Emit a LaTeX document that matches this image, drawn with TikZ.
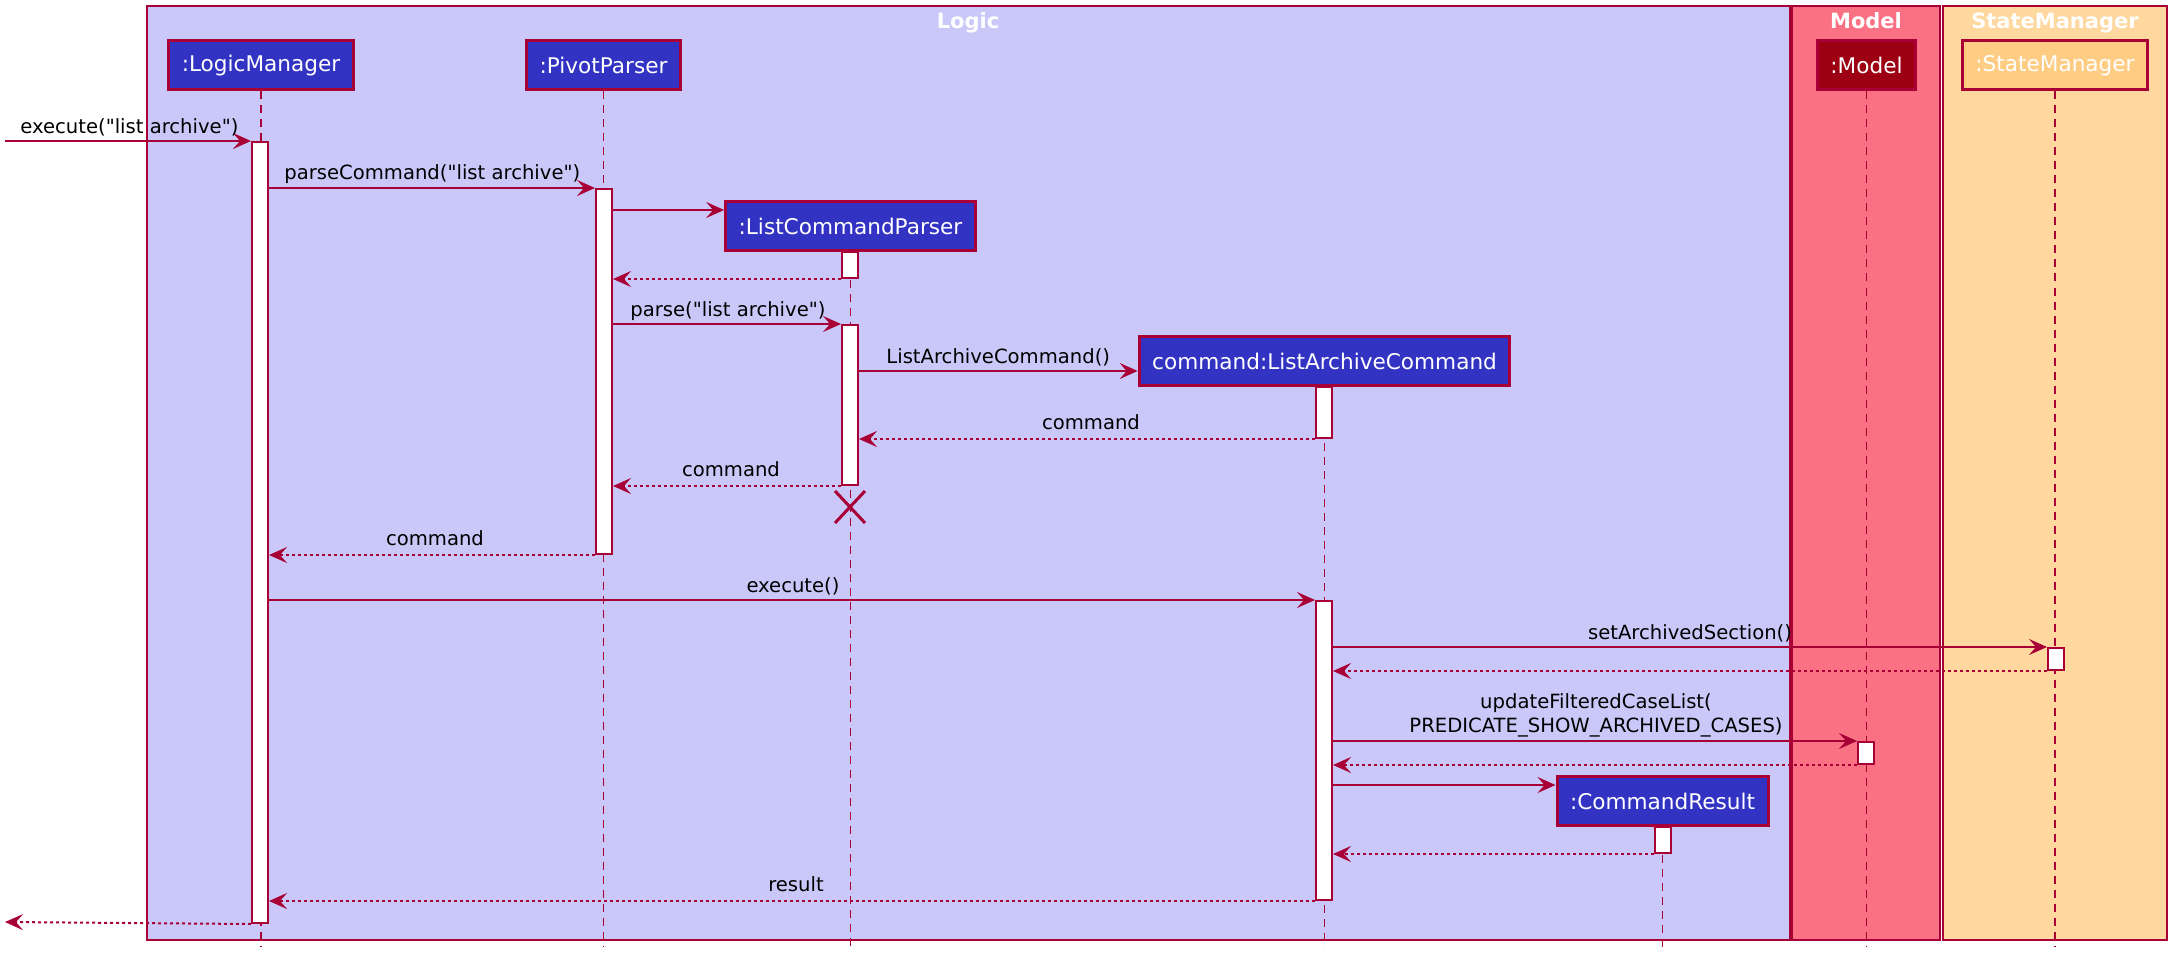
\documentclass[tikz,border=0pt]{standalone}
\usepackage{fontspec}
\newfontfamily\umlfont{DejaVu Sans}
\usetikzlibrary{arrows.meta}
\definecolor{umlred}{HTML}{A80036}
\definecolor{logicbg}{HTML}{C9C8F9}
\definecolor{modelbg}{HTML}{FA7183}
\definecolor{statebg}{HTML}{FED89E}
\definecolor{partblue}{HTML}{3333C3}
\definecolor{modelbox}{HTML}{9C0012}
\definecolor{statebox}{HTML}{FECC82}

\begin{document}
\begin{tikzpicture}[x=0.5pt,y=-0.5pt,
  part/.style={draw=umlred,line width=1.5pt,fill=partblue,text=white,font=\umlfont\fontsize{10.8}{13}\selectfont,minimum height=24.5pt,inner xsep=6.5pt,inner ysep=0pt},
  act/.style={draw=umlred,line width=1pt,fill=white,minimum width=8pt,inner sep=0pt,anchor=north},
  life/.style={draw=umlred,line width=0.8pt,dash pattern=on 4pt off 3pt},
  msg/.style={draw=umlred,line width=1pt,-{Stealth[length=9pt,width=8pt,inset=3.5pt]}},
  ret/.style={msg,dash pattern=on 1.5pt off 1.5pt},
  lbl/.style={font=\umlfont\fontsize{9.8}{12}\selectfont,inner sep=0pt},
  grp/.style={draw=umlred,line width=1pt},
  ttl/.style={text=white,anchor=base,font=\umlfont\bfseries\fontsize{10.5}{12}\selectfont}]
\useasboundingbox (0,0) rectangle (2183,968);
\draw[grp,fill=logicbg] (147,6) rectangle (1790,940);
\draw[grp,fill=modelbg] (1792,6) rectangle (1940,940);
\draw[grp,fill=statebg] (1943,6) rectangle (2167,940);
\node[ttl] (tlogic) at (968,29) {Logic};
\node[ttl] (tmodel) at (1866,29) {Model};
\node[ttl] (tstate) at (2055,29) {StateManager};

\node[part] (lm) at (261,65.5) {:LogicManager};
\node[part] (pp) at (603.5,65.5) {:PivotParser};
\node[part,fill=modelbox] (md) at (1866.5,65.5) {:Model};
\node[part,fill=statebox] (sm) at (2055,65.5) {:StateManager};
\node[part] (lcp) at (850.5,226) {:ListCommandParser};
\node[part] (lac) at (1324.5,361) {command:ListArchiveCommand};
\node[part] (cr) at (1662.5,801) {:CommandResult};

\draw[life] (lm.south) -- (lm.south |- 0,947);
\draw[life] (pp.south) -- (pp.south |- 0,947);
\draw[life] (md.south) -- (md.south |- 0,947);
\draw[life] (sm.south) -- (sm.south |- 0,947);
\draw[life] (lcp.south) -- (lcp.south |- 0,947);
\draw[life] (lac.south) -- (lac.south |- 0,947);
\draw[life] (cr.south) -- (cr.south |- 0,947);

\node[act,minimum height=390.5pt] (lmA) at (260,141) {};
\node[act,minimum height=182.5pt] (ppA) at (604,188) {};
\node[act,minimum height=13pt] (lcpA1) at (850,251) {};
\node[act,minimum height=80pt] (lcpA2) at (850,324) {};
\node[act,minimum height=25.5pt] (lacA1) at (1324,386) {};
\node[act,minimum height=149.5pt] (lacA2) at (1324,600) {};
\node[act,minimum height=11pt] (smA) at (2056,647) {};
\node[act,minimum height=11pt] (mdA) at (1866,741) {};
\node[act,minimum height=13pt] (crA) at (1663,826) {};

\coordinate (in) at (5,141);
\coordinate (out) at (5,922);
\coordinate (lcpX) at (850,507);

\draw[msg] (in) -- (lmA.north west);
\draw[msg] (lmA.east |- ppA.north) -- (ppA.north west);
\draw[msg] (ppA.east |- 0,210) -- (lcp.west |- 0,210);
\draw[ret] (lcpA1.south west) -- (ppA.east |- lcpA1.south);
\draw[msg] (ppA.east |- lcpA2.north) -- (lcpA2.north west);
\draw[msg] (lcpA2.east |- 0,371) -- (lac.west |- 0,371);
\draw[ret] (lacA1.south west) -- (lcpA2.east |- lacA1.south);
\draw[ret] (lcpA2.south west) -- (ppA.east |- lcpA2.south);
\draw[umlred,line width=1.5pt] ([shift={(-15,-16)}]lcpX) -- ([shift={(15,16)}]lcpX) ([shift={(15,-16)}]lcpX) -- ([shift={(-15,16)}]lcpX);
\draw[ret] (ppA.south west) -- (lmA.east |- ppA.south);
\draw[msg] (lmA.east |- lacA2.north) -- (lacA2.north west);
\draw[msg] (lacA2.east |- smA.north) -- (smA.north west);
\draw[ret] (smA.south west) -- (lacA2.east |- smA.south);
\draw[msg] (lacA2.east |- mdA.north) -- (mdA.north west);
\draw[ret] (mdA.south west) -- (lacA2.east |- mdA.south);
\draw[msg] (lacA2.east |- 0,785) -- (cr.west |- 0,785);
\draw[ret] (crA.south west) -- (lacA2.east |- crA.south);
\draw[ret] (lacA2.south west) -- (lmA.east |- lacA2.south);
\draw[ret] (lmA.south west) -- (out);

\node[lbl,anchor=base west] (m1) at (20,134) {execute("list archive")};
\node[lbl,anchor=base west] (m2) at (284,180) {parseCommand("list archive")};
\node[lbl,anchor=base west] (m3) at (630,316) {parse("list archive")};
\node[lbl,anchor=base west] (m4) at (886,363) {ListArchiveCommand()};
\node[lbl,anchor=base] (m5) at (1091,429) {command};
\node[lbl,anchor=base] (m6) at (731,476) {command};
\node[lbl,anchor=base] (m7) at (435,545) {command};
\node[lbl,anchor=base] (m8) at (793,592) {execute()};
\node[lbl,anchor=base] (m9) at (1690,639) {setArchivedSection()};
\node[lbl,anchor=south,align=center] (m10) at (1596,738) {updateFilteredCaseList(\\PREDICATE\_SHOW\_ARCHIVED\_CASES)};
\node[lbl,anchor=base] (m11) at (796,891) {result};
\end{tikzpicture}
\end{document}
